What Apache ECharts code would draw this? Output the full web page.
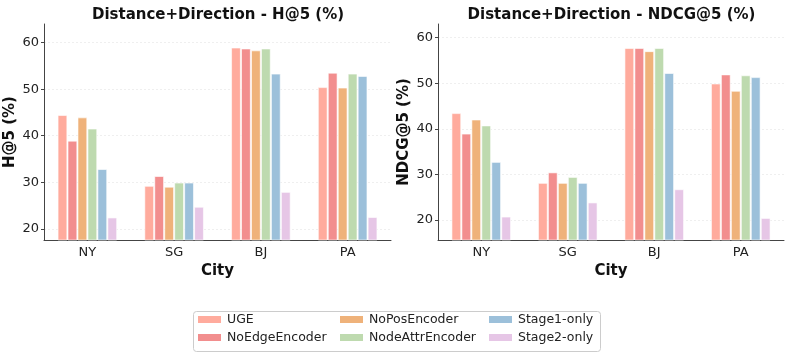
<!DOCTYPE html>
<html>
<head>
<meta charset="utf-8">
<script src="https://cdn.jsdelivr.net/npm/echarts@6/dist/echarts.min.js"></script>
<style>
  html, body { margin: 0; padding: 0; background: #fff; }
  #echarts { width: 789px; height: 354px; }
</style>
</head>
<body>
<div id="echarts"></div>
<script>
// data
var cities = ['NY', 'SG', 'BJ', 'PA'];
var models = ['UGE', 'NoEdgeEncoder', 'NoPosEncoder', 'NodeAttrEncoder', 'Stage1-only', 'Stage2-only'];
var colors = ['#FFAB9D', '#F28E8E', '#EFB27A', '#BEDAAF', '#9CC0DA', '#E6C6E6'];
var hitUGE       = [44.4, 29.2, 58.9, 50.4];
var hitNoEdge    = [38.9, 31.3, 58.7, 53.5];
var hitNoPos     = [43.9, 29.0, 58.3, 50.3];
var hitNodeAttr  = [41.5, 29.9, 58.7, 53.3];
var hitStage1    = [32.8, 29.9, 53.3, 52.8];
var hitStage2    = [22.4, 24.7, 27.9, 22.5];
var ndcgUGE      = [43.4, 28.1, 57.7, 49.9];
var ndcgNoEdge   = [38.9, 30.4, 57.7, 51.9];
var ndcgNoPos    = [42.0, 28.1, 57.0, 48.3];
var ndcgNodeAttr = [40.7, 29.4, 57.7, 51.7];
var ndcgStage1   = [32.7, 28.1, 52.2, 51.3];
var ndcgStage2   = [20.7, 23.8, 26.7, 20.4];
var yTicks = [20, 30, 40, 50, 60];

var hitData = [hitUGE, hitNoEdge, hitNoPos, hitNodeAttr, hitStage1, hitStage2];
var ndcgData = [ndcgUGE, ndcgNoEdge, ndcgNoPos, ndcgNodeAttr, ndcgStage1, ndcgStage2];

var font = 'DejaVu Sans';

function makeX(idx){
    return {
        type: 'category', gridIndex: idx, data: cities,
        name: 'City', nameLocation: 'middle', nameGap: 22,
        nameTextStyle: {fontFamily: font, fontWeight: 'bold', fontSize: 15, color: '#111'},
        axisLine: {lineStyle: {color: '#444', width: 1}},
        axisTick: {show: false},
        axisLabel: {fontFamily: font, fontSize: 13, color: '#222', margin: 6}
    };
}
function makeY(idx, name, min, max){
    return {
        type: 'value', gridIndex: idx, min: min, max: max,
        name: name, nameLocation: 'middle', nameGap: 26,
        nameTextStyle: {fontFamily: font, fontWeight: 'bold', fontSize: 15, color: '#111'},
        axisLine: {show: true, lineStyle: {color: '#444', width: 1}},
        axisTick: {show: true, length: 3, lineStyle: {color: '#444'}, customValues: yTicks},
        axisLabel: {fontFamily: font, fontSize: 13, color: '#222', margin: 5, customValues: yTicks},
        splitLine: {show: true, lineStyle: {color: '#ebebeb', type: [2, 2], width: 0.8}}
    };
}

var series = [];
function addSeries(data, idx){
    for (var i = 0; i < models.length; i++) {
        series.push({
            name: models[i], type: 'bar',
            xAxisIndex: idx, yAxisIndex: idx,
            data: data[i],
            barWidth: 9.4, barGap: '6%',
            itemStyle: {color: colors[i], borderColor: '#fff', borderWidth: 0.6}
        });
    }
}
addSeries(hitData, 0);
addSeries(ndcgData, 1);

function makeLegend(names, left){
    return {
        data: names, orient: 'vertical', left: left, top: 313,
        selectedMode: false, itemWidth: 25, itemHeight: 9, itemGap: 5,
        icon: 'rect',
        textStyle: {fontFamily: font, fontSize: 12.5, color: '#222', padding: [0, 0, 0, 0]},
        padding: 0
    };
}

var myChart = echarts.init(document.getElementById('echarts'));
var option = {
    animation: false,
    backgroundColor: '#fff',
    title: [
        {text: 'Distance+Direction - H@5 (%)', left: 213, top: 3, textAlign: 'center',
         textStyle: {fontFamily: font, fontWeight: 'bold', fontSize: 15, color: '#111'}},
        {text: 'Distance+Direction - NDCG@5 (%)', left: 606.5, top: 3, textAlign: 'center',
         textStyle: {fontFamily: font, fontWeight: 'bold', fontSize: 15, color: '#111'}}
    ],
    grid: [
        {left: 44, right: 398, top: 24, bottom: 114},
        {left: 438, right: 5, top: 24, bottom: 114}
    ],
    xAxis: [makeX(0), makeX(1)],
    yAxis: [makeY(0, 'H@5 (%)', 17.6, 64), makeY(1, 'NDCG@5 (%)', 15.6, 63)],
    legend: [
        makeLegend([models[0], models[1]], 196),
        makeLegend([models[2], models[3]], 338),
        makeLegend([models[4], models[5]], 487)
    ],
    graphic: [{
        type: 'rect', left: 191, top: 309, silent: true,
        shape: {width: 407, height: 40, r: 3},
        style: {fill: 'none', stroke: '#ccc', lineWidth: 1}
    }],
    series: series
};
myChart.setOption(option);
</script>
</body>
</html>
